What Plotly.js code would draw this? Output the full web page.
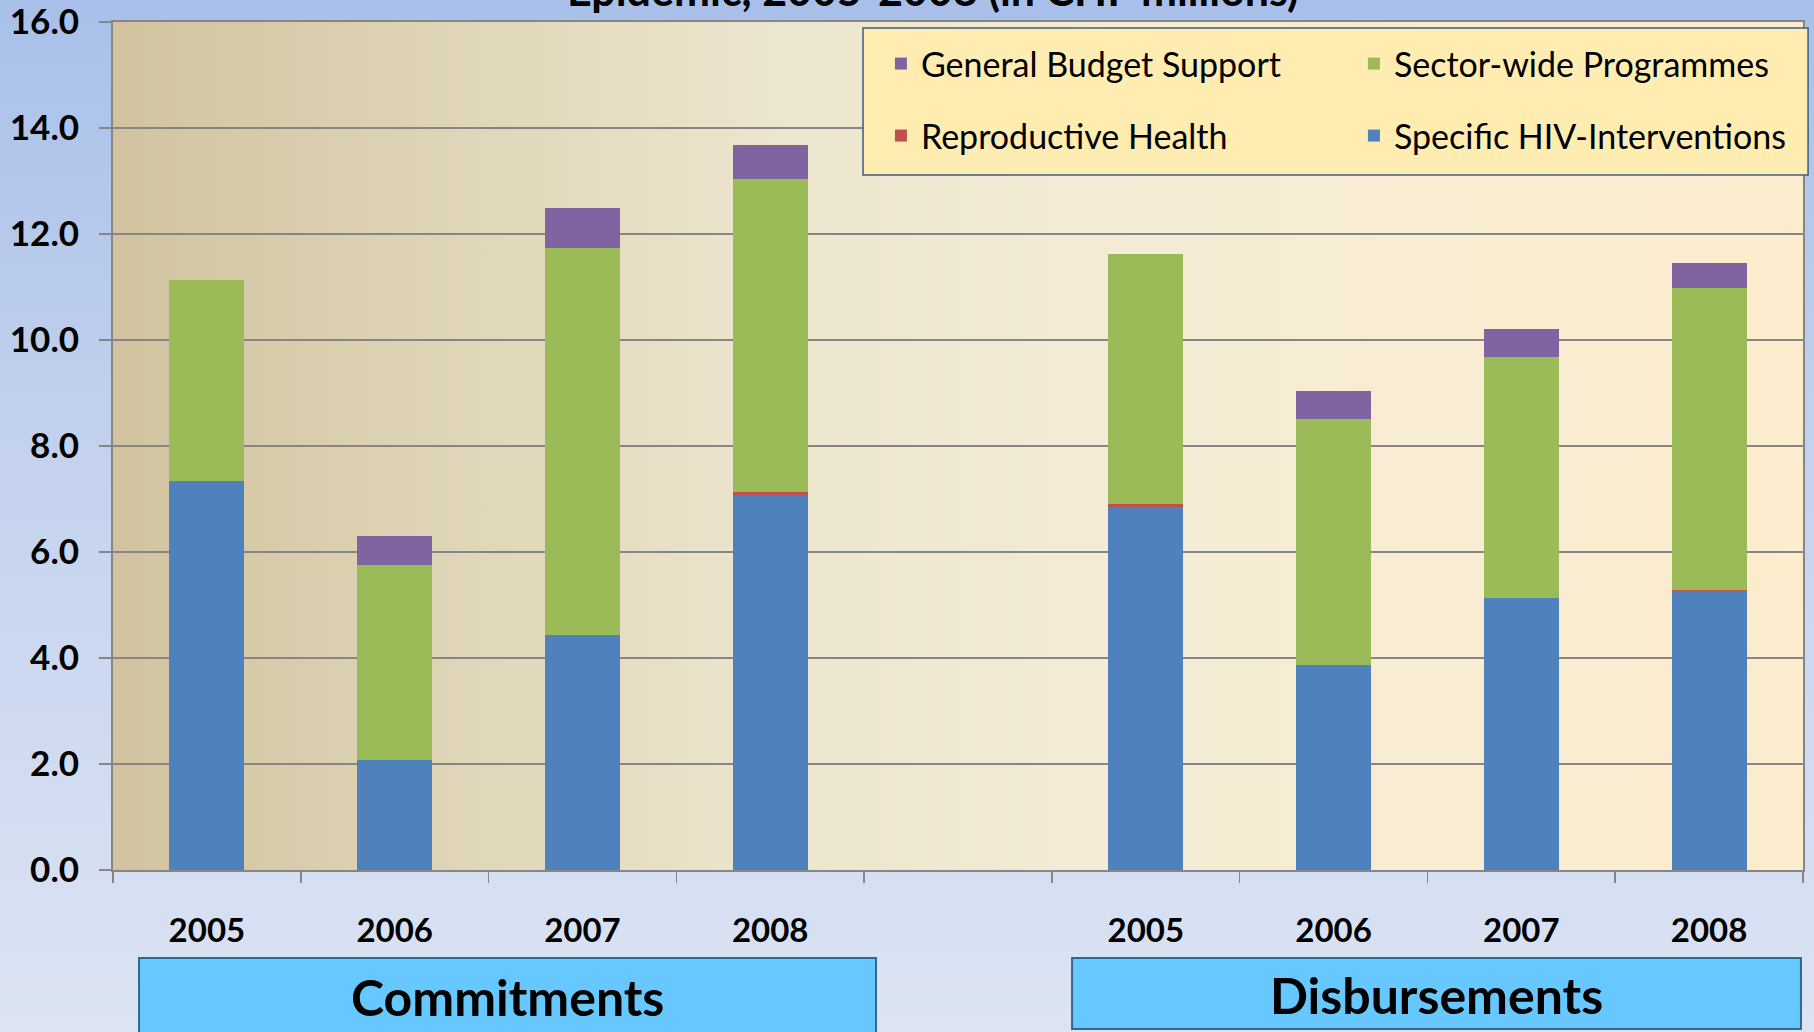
<!DOCTYPE html>
<html>
<head>
<meta charset="utf-8">
<script src="https://cdn.plot.ly/plotly-3.0.1.min.js"></script>
<style>
  html, body { margin: 0; padding: 0; }
  body { width: 1814px; height: 1032px; overflow: hidden;
         background: linear-gradient(to bottom, #a8c0e9 0%, #c4d2ee 45%, #dce4f3 100%); }
  #chart { width: 1814px; height: 1032px; }
</style>
</head>
<body>
<div id="chart"></div>
<script>
// ---- Data (CHF millions) ----
const years = ['2005', '2006', '2007', '2008'];
const groupLabels = ['Commitments', 'Disbursements'];
const seriesNames = ['Specific HIV-Interventions', 'Reproductive Health', 'Sector-wide Programmes', 'General Budget Support'];

const hivCommit = [7.34, 2.08, 4.43, 7.07];
const rhCommit  = [0, 0, 0, 0.06];
const swpCommit = [3.79, 3.68, 7.31, 5.90];
const gbsCommit = [0, 0.55, 0.75, 0.65];

const hivDisb = [6.85, 3.86, 5.13, 5.26];
const rhDisb  = [0.05, 0, 0, 0.02];
const swpDisb = [4.73, 4.65, 4.54, 5.71];
const gbsDisb = [0, 0.53, 0.54, 0.47];

const yTicks = [0, 2, 4, 6, 8, 10, 12, 14, 16];
const titleText = 'Epidemic, 2005-2008 (in CHF millions)';

// ---- Build ----
const FONT = 'Lato, "Open Sans", "DejaVu Sans", sans-serif';
const cats = [...years, ' ', ...years.map(y => '\u200b' + y)];
const join = (c, d) => [...c, null, ...d];
const colors = ['#4f81bd', '#c0504d', '#9bbb59', '#8064a2'];
const vals = [join(hivCommit, hivDisb), join(rhCommit, rhDisb), join(swpCommit, swpDisb), join(gbsCommit, gbsDisb)];
const legendOf = ['legend2', 'legend2', 'legend', 'legend'];
const rankOf = [2, 1, 2, 1];

const traces = seriesNames.map((n, i) => ({
  type: 'bar', name: n, x: cats, y: vals[i],
  marker: { color: colors[i] },
  legend: legendOf[i], legendrank: rankOf[i],
  hoverinfo: 'x+y+name'
}));

const gradSvg = 'data:image/svg+xml;charset=utf-8,' + encodeURIComponent(
  '<svg xmlns="http://www.w3.org/2000/svg" width="200" height="100" viewBox="0 0 200 100" preserveAspectRatio="none">' +
  '<defs><linearGradient id="g" x1="0" x2="1" y1="0" y2="0">' +
  '<stop offset="0" stop-color="#d1c39f"/><stop offset="0.4" stop-color="#ede6cf"/>' +
  '<stop offset="0.6" stop-color="#f4ecd6"/><stop offset="1" stop-color="#fdecce"/>' +
  '</linearGradient></defs><rect width="200" height="100" fill="url(#g)"/></svg>');

const legendCommon = {
  orientation: 'h', xanchor: 'left', yanchor: 'middle',
  bgcolor: 'rgba(0,0,0,0)', borderwidth: 0,
  font: { family: FONT, size: 34, color: '#000' },
  entrywidth: 428, entrywidthmode: 'pixels', traceorder: 'normal'
};

const layout = {
  width: 1814, height: 1032,
  margin: { l: 113, r: 11, t: 22, b: 162, autoexpand: false },
  paper_bgcolor: 'rgba(0,0,0,0)', plot_bgcolor: 'rgba(0,0,0,0)',
  barmode: 'stack', bargap: 0.6,
  font: { family: FONT, color: '#000' },
  xaxis: {
    type: 'category', categoryorder: 'array', categoryarray: cats,
    range: [-0.5, cats.length - 0.5], automargin: false, ticklabeloverflow: 'allow',
    tickson: 'boundaries', ticks: 'outside', ticklen: 11, tickwidth: 1.5, tickcolor: '#868686',
    showline: true, linecolor: '#868686', linewidth: 2, mirror: true,
    showgrid: false, ticklabelstandoff: 30,
    tickfont: { family: FONT, size: 33, weight: 'bold', color: '#000' }
  },
  yaxis: {
    range: [0, 16], tickvals: yTicks, tickformat: '.1f', automargin: false, ticklabeloverflow: 'allow',
    ticks: 'outside', ticklen: 12, tickwidth: 1.5, tickcolor: '#868686',
    showline: true, linecolor: '#868686', linewidth: 2, mirror: true,
    showgrid: true, gridcolor: '#868686', gridwidth: 1.5, zeroline: false,
    ticklabelstandoff: 13,
    tickfont: { family: FONT, size: 35, weight: 'bold', color: '#000' }
  },
  legend: Object.assign({}, legendCommon, { x: 0.4544, y: 0.9505 }),
  legend2: Object.assign({}, legendCommon, { x: 0.4544, y: 0.8656 }),
  images: [{ source: gradSvg, xref: 'paper', yref: 'paper', x: 0, y: 1, sizex: 1, sizey: 1,
             sizing: 'stretch', xanchor: 'left', yanchor: 'top', layer: 'below' }],
  shapes: [
    { type: 'rect', xref: 'paper', yref: 'paper', x0: 0.4438, x1: 1.003, y0: 0.8196, y1: 0.9929,
      fillcolor: '#feecb0', line: { color: '#385d8a', width: 1.5 }, layer: 'above' },
    { type: 'rect', xref: 'paper', yref: 'paper', x0: 0.0154, x1: 0.4515, y0: -0.2100, y1: -0.1038,
      fillcolor: '#66c8ff', line: { color: '#2f6a8a', width: 2 }, layer: 'above' },
    { type: 'rect', xref: 'paper', yref: 'paper', x0: 0.5675, x1: 0.9988, y0: -0.1875, y1: -0.1038,
      fillcolor: '#66c8ff', line: { color: '#2f6a8a', width: 2 }, layer: 'above' }
  ],
  annotations: [
    { text: '<b>' + titleText + '</b>', xref: 'paper', yref: 'paper', x: 0.4852, y: 1,
      xanchor: 'center', yanchor: 'bottom', yshift: 5, showarrow: false,
      font: { family: FONT, size: 43, color: '#000' } },
    { text: '<b>' + groupLabels[0] + '</b>', xref: 'paper', yref: 'paper', x: 0.2335, y: -0.1498,
      xanchor: 'center', yanchor: 'middle', showarrow: false,
      font: { family: FONT, size: 50, color: '#000' } },
    { text: '<b>' + groupLabels[1] + '</b>', xref: 'paper', yref: 'paper', x: 0.7834, y: -0.1474,
      xanchor: 'center', yanchor: 'middle', showarrow: false,
      font: { family: FONT, size: 50, color: '#000' } }
  ]
};

Plotly.newPlot('chart', traces, layout, { displayModeBar: false, staticPlot: true });
</script>
</body>
</html>
